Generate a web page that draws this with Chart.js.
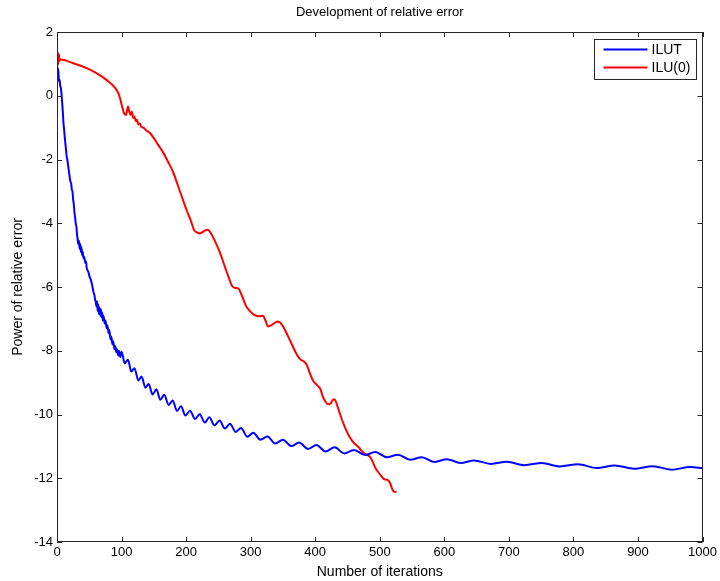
<!DOCTYPE html>
<html>
<head>
<meta charset="utf-8">
<script src="https://cdn.jsdelivr.net/npm/chart.js@4"></script>
<style>
  html, body { margin: 0; padding: 0; background: #fff; }
  #wrap { width: 720px; height: 581px; }
</style>
</head>
<body>
<div id="wrap"><canvas id="chart" width="720" height="581"></canvas></div>
<script>
// ILUT series (blue)
const ilutX = [0,1,2,3,4,5,6,7,8,9,10,11,12,13,14,15,16,17,18,19,20,21,22,23,24,25,26,27,28,29,30,
  31,32,33,34,35,36,37,38,39,40,41,42,44,45,46,48,49,50,52,54,55,56,57,58,59,60,61,62,63,64,65,66,67,68,69,70,
  71,72,74,75,77,78,80,81,83,84,86,87,89,90,92,93,95,96,98,
  100,105,110,115,120,126,131,137,142,148,154,160,166,173,179,186,192,199,206,214,221,229,236,244,252,260,268,277,
  285,295,304,315,326,338,350,363,375,389,402,416,430,445,460,477,493,511,528,547,565,585,604,625,646,672,697,724,
  751,779,807,836,864,894,923,952,981,1000];
const ilutY = [1.05,0.75,0.85,0.45,0.5,0.3,0.25,0.05,-0.2,-0.5,-0.85,-1.05,-1.3,-1.5,-1.7,-1.9,-2.0,-2.15,-2.3,-2.45,-2.6,
  -2.7,-2.75,-2.95,-3.0,-3.25,-3.4,-3.65,-3.8,-4.0,-4.1,
  -4.35,-4.5,-4.65,-4.55,-4.8,-4.65,-4.9,-4.75,-5.0,-4.9,-5.1,-5.05,-5.25,-5.2,-5.4,-5.5,-5.55,-5.65,-5.75,-5.9,-6.0,
  -6.1,-6.2,-6.25,-6.4,-6.45,-6.6,-6.45,-6.75,-6.55,-6.85,-6.65,-6.9,-6.7,-6.95,-6.8,
  -7.05,-6.9,-7.15,-7.05,-7.3,-7.2,-7.45,-7.35,-7.65,-7.55,-7.8,-7.7,-7.95,-7.85,-8.05,-7.95,-8.15,-8.0,-8.2,
  -8.03,-8.4,-8.28,-8.65,-8.55,-8.93,-8.81,-9.16,-9.04,-9.37,-9.21,-9.54,-9.38,-9.7,-9.56,-9.89,-9.74,-10.03,-9.88,
  -10.14,-9.99,-10.25,-10.09,-10.34,-10.19,-10.44,-10.29,-10.55,
  -10.42,-10.7,-10.57,-10.79,-10.69,-10.91,-10.79,-10.99,-10.88,-11.08,-10.96,-11.16,-11.03,-11.22,-11.11,-11.27,
  -11.18,-11.34,-11.26,-11.42,-11.34,-11.49,-11.4,-11.52,-11.44,-11.55,-11.48,-11.59,
  -11.52,-11.63,-11.56,-11.68,-11.6,-11.7,-11.62,-11.73,-11.65,-11.69];

// ILU(0) series (red)
const iluX = [0,1,2,3,4,6,25,51,65,77,90,95,98,101,104,107,110,112,114,116,118,120,122,124,126,128,131,134,138,144,
  150,157,165,172,180,187,194,201,207,212,216,221,226,230,234,238,244,252,260,266,271,276,281,286,293,300,306,313,
  319,323,327,332,337,342,346,352,358,365,371,377,382,387,392,397,403,408,412,416,420,424,427,430,433,438,443,448,
  454,459,463,467,471,476,481,485,489,493,498,503,507,512,516,520,523,526];
const iluY = [0.9,1.38,1.0,1.3,1.1,1.14,1.02,0.82,0.66,0.49,0.25,0.08,-0.1,-0.35,-0.55,-0.6,-0.34,-0.5,-0.6,-0.5,
  -0.7,-0.65,-0.8,-0.75,-0.9,-0.87,-0.98,-1.0,-1.08,-1.17,
  -1.33,-1.55,-1.8,-2.07,-2.4,-2.8,-3.2,-3.6,-3.9,-4.2,-4.28,-4.32,-4.27,-4.22,-4.2,-4.3,-4.53,-4.9,-5.36,-5.7,-5.96,
  -6.03,-6.05,-6.25,-6.6,-6.78,-6.88,-6.92,
  -6.9,-7.05,-7.24,-7.2,-7.13,-7.08,-7.12,-7.3,-7.55,-7.85,-8.1,-8.27,-8.33,-8.45,-8.72,-8.95,-9.08,-9.2,-9.45,-9.6,
  -9.68,-9.65,-9.55,-9.52,-9.65,-9.96,-10.25,-10.49,
  -10.73,-10.87,-10.95,-11.02,-11.12,-11.22,-11.27,-11.33,-11.48,-11.67,-11.82,-11.95,-12.03,-12.05,-12.15,-12.37,
  -12.43,-12.42];

const xTicks = [0,100,200,300,400,500,600,700,800,900,1000];
const yTicks = [-14,-12,-10,-8,-6,-4,-2,0,2];

const FONT = '"Liberation Sans", Arial, sans-serif';

function toPoints(xs, ys) {
  return xs.map((x, i) => ({ x: x, y: ys[i] }));
}

// box around the plot, inward ticks on all sides, legend in the corner
const matlabFrame = {
  id: 'matlabFrame',
  afterDatasetsDraw(chart) {
    const { ctx, chartArea: a, scales } = chart;
    const len = 5;
    ctx.save();
    ctx.strokeStyle = '#262626';
    ctx.lineWidth = 1;
    ctx.beginPath();
    xTicks.forEach(v => {
      const px = Math.round(scales.x.getPixelForValue(v)) + 0.5;
      ctx.moveTo(px, a.bottom); ctx.lineTo(px, a.bottom - len);
      ctx.moveTo(px, a.top); ctx.lineTo(px, a.top + len);
    });
    yTicks.forEach(v => {
      const py = Math.round(scales.y.getPixelForValue(v)) + 0.5;
      ctx.moveTo(a.left, py); ctx.lineTo(a.left + len, py);
      ctx.moveTo(a.right, py); ctx.lineTo(a.right - len, py);
    });
    ctx.stroke();
    ctx.strokeRect(Math.round(a.left) + 0.5, Math.round(a.top) + 0.5,
      Math.round(a.width) - 1, Math.round(a.height) - 1);

    // legend
    const bw = 102, bh = 40;
    const bx = Math.round(a.right) - 7 - bw + 0.5, by = Math.round(a.top) + 7 + 0.5;
    ctx.fillStyle = '#fff';
    ctx.fillRect(bx, by, bw, bh);
    ctx.strokeRect(bx, by, bw, bh);
    ctx.font = '14px ' + FONT;
    ctx.textBaseline = 'middle';
    chart.data.datasets.forEach((ds, i) => {
      const yy = by + 10 + i * 18;
      ctx.strokeStyle = ds.borderColor;
      ctx.lineWidth = 2;
      ctx.beginPath();
      ctx.moveTo(bx + 9, yy); ctx.lineTo(bx + 53, yy);
      ctx.stroke();
      ctx.fillStyle = '#000';
      ctx.fillText(ds.label, bx + 57, yy + 1);
    });
    ctx.restore();
  }
};

const ctx = document.getElementById('chart');
new Chart(ctx, {
  type: 'line',
  data: {
    datasets: [
      {
        label: 'ILUT',
        data: toPoints(ilutX, ilutY),
        borderColor: '#0000ff',
        borderWidth: 2,
        pointRadius: 0,
        cubicInterpolationMode: 'monotone'
      },
      {
        label: 'ILU(0)',
        data: toPoints(iluX, iluY),
        borderColor: '#ff0000',
        borderWidth: 2,
        pointRadius: 0,
        cubicInterpolationMode: 'monotone'
      }
    ]
  },
  options: {
    responsive: false,
    animation: false,
    devicePixelRatio: 1,
    layout: { padding: { left: 0, right: 17, top: 0, bottom: 0 } },
    plugins: {
      legend: { display: false },
      tooltip: { enabled: false },
      title: {
        display: true,
        text: 'Development of relative error',
        fullSize: false,
        color: '#000',
        font: { family: FONT, size: 13, weight: 'normal' },
        padding: { top: 4.2, bottom: 12.2 }
      }
    },
    scales: {
      x: {
        type: 'linear',
        min: 0,
        max: 1000,
        afterBuildTicks: s => { s.ticks = xTicks.map(v => ({ value: v })); },
        afterFit: s => { s.height = 39; },
        grid: { display: false, drawTicks: false },
        border: { display: false },
        ticks: { color: '#000', font: { family: FONT, size: 13 }, padding: 3, maxRotation: 0,
          callback: v => String(v) },
        title: {
          display: true,
          text: 'Number of iterations',
          color: '#000',
          font: { family: FONT, size: 14 },
          padding: { top: 0, bottom: 0.6 }
        }
      },
      y: {
        type: 'linear',
        min: -14,
        max: 2,
        afterBuildTicks: s => { s.ticks = yTicks.map(v => ({ value: v })); },
        afterFit: s => { s.width = 57; },
        grid: { display: false, drawTicks: false },
        border: { display: false },
        ticks: { color: '#000', font: { family: FONT, size: 13 }, padding: 4,
          callback: v => String(v) },
        title: {
          display: true,
          text: 'Power of relative error',
          color: '#000',
          font: { family: FONT, size: 14 },
          padding: { top: 9.6, bottom: 0 }
        }
      }
    }
  },
  plugins: [matlabFrame]
});
</script>
</body>
</html>
